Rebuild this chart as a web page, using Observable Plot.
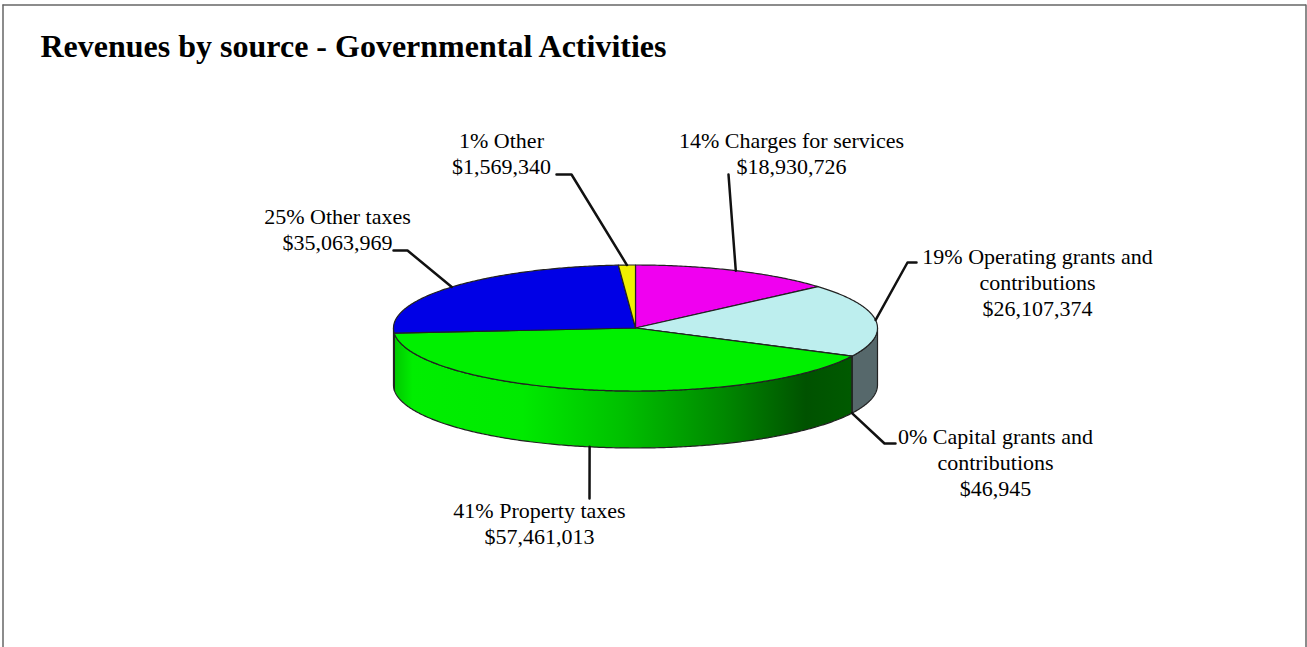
<!DOCTYPE html>
<html>
<head>
<meta charset="utf-8">
<script src="https://cdn.jsdelivr.net/npm/d3@7"></script>
<script src="https://cdn.jsdelivr.net/npm/@observablehq/plot@0.6"></script>
<style>html,body{margin:0;padding:0;background:#fff}svg{display:block}</style>
</head>
<body>
<div id="chart"></div>
<script>
// Data, clockwise from twelve o'clock
const categories = ["Charges for services", "Operating grants and\ncontributions", "Capital grants and\ncontributions", "Property taxes", "Other taxes", "Other"];
const values = [18930726, 26107374, 46945, 57461013, 35063969, 1569340];

// Styles
const topColors = ["#f000f0", "#bdeeee", "#bdeeee", "#00f000", "#0000e6", "#f0f000"];
const sideColors = ["#a000a0", "#56686b", "#56686b", "url(#greenSide)", "#00c000", "#a0a000"];

// Layout
const W = 1307, H = 647;
const cx = 635, cy = 327.5, rx = 242, ry = 63, depth = 57;
const labelX = [791, 1037, 995, 539, 337, 501];
const labelY = [152, 281, 461, 522, 228, 152];
// leader waypoints after the point on the rim
const leaderWays = [
  [[728, 174]],
  [[907, 262], [916, 262]],
  [[884, 443], [895, 443]],
  [[589, 498]],
  [[407, 250], [393, 250]],
  [[571, 174], [556, 174]]
];

const total = d3.sum(values);
const arcs = d3.pie().sort(null).value(d => d)(values);
const px = a => cx + rx * Math.sin(a);
const py = a => cy - ry * Math.cos(a);
const sample = (a0, a1) => {
  const n = Math.max(2, Math.ceil(Math.abs(a1 - a0) / 0.01));
  return d3.range(n + 1).map(i => a0 + (a1 - a0) * i / n);
};

const tops = arcs.map((s, i) => {
  const rim = sample(s.startAngle, s.endAngle).map(a => ({x: px(a), y: py(a)}));
  return [{x: cx, y: cy}, ...rim, {x: cx, y: cy}];
});

const sides = arcs.map(s => {
  const a0 = Math.max(s.startAngle, Math.PI / 2), a1 = Math.min(s.endAngle, 3 * Math.PI / 2);
  if (a1 <= a0) return null;
  const angles = sample(a0, a1);
  const up = angles.map(a => ({x: px(a), y: py(a)}));
  const down = angles.slice().reverse().map(a => ({x: px(a), y: py(a) + depth}));
  return [...up, ...down, up[0]];
});

const leaders = arcs.map((s, i) => {
  const mid = (s.startAngle + s.endAngle) / 2;
  const lift = (mid > Math.PI / 2 && mid < 3 * Math.PI / 2) ? depth : 0;
  return [{x: px(mid), y: py(mid) + lift}, ...leaderWays[i].map(([x, y]) => ({x, y}))];
});

const labels = categories.map((c, i) => ({
  x: labelX[i],
  y: labelY[i],
  text: `${Math.round(values[i] / total * 100)}% ${c}\n$${d3.format(",")(values[i])}`
}));

const gradient = () => {
  const svg = d3.create("svg:defs");
  const g = svg.append("linearGradient").attr("id", "greenSide").attr("x1", 0).attr("x2", 1).attr("y1", 0).attr("y2", 0);
  [[0, "#00c800"], [0.04, "#00ee00"], [0.28, "#00ea00"], [0.5, "#00c000"], [0.72, "#008800"], [0.9, "#005200"], [1, "#005a00"]]
    .forEach(([o, c]) => g.append("stop").attr("offset", o).attr("stop-color", c));
  return svg.node();
};

const serif = "'Liberation Serif','Times New Roman',serif";
const edge = {x: "x", y: "y", stroke: "#222", strokeWidth: 1.2, curve: "linear"};

const chart = Plot.plot({
  width: W,
  height: H,
  margin: 0,
  style: {background: "#fff"},
  x: {domain: [0, W], range: [0, W], axis: null},
  y: {domain: [0, H], range: [0, H], axis: null},
  marks: [
    gradient,
    Plot.ruleY([4.5], {x1: 2.5, x2: 1306, stroke: "#666", strokeWidth: 1.5}),
    Plot.ruleX([2.5, 1305.5], {y1: 4.5, y2: H, stroke: "#666", strokeWidth: 1.5}),
    ...sides.map((pts, i) => pts ? Plot.line(pts, {...edge, fill: sideColors[i]}) : null),
    ...tops.map((pts, i) => Plot.line(pts, {...edge, fill: topColors[i]})),
    ...leaders.map(pts => Plot.line(pts, {x: "x", y: "y", stroke: "#111", strokeWidth: 2.5, curve: "linear"})),
    Plot.text(labels, {x: "x", y: "y", text: "text", fontSize: 22, fontFamily: serif, lineHeight: 26 / 22, fill: "#000"}),
    Plot.text(["Revenues by source - Governmental Activities"], {x: [40], y: [46], text: d => d, textAnchor: "start", fontSize: 32, fontWeight: "bold", fontFamily: serif, fill: "#000"})
  ]
});
document.getElementById("chart").appendChild(chart);
</script>
</body>
</html>
